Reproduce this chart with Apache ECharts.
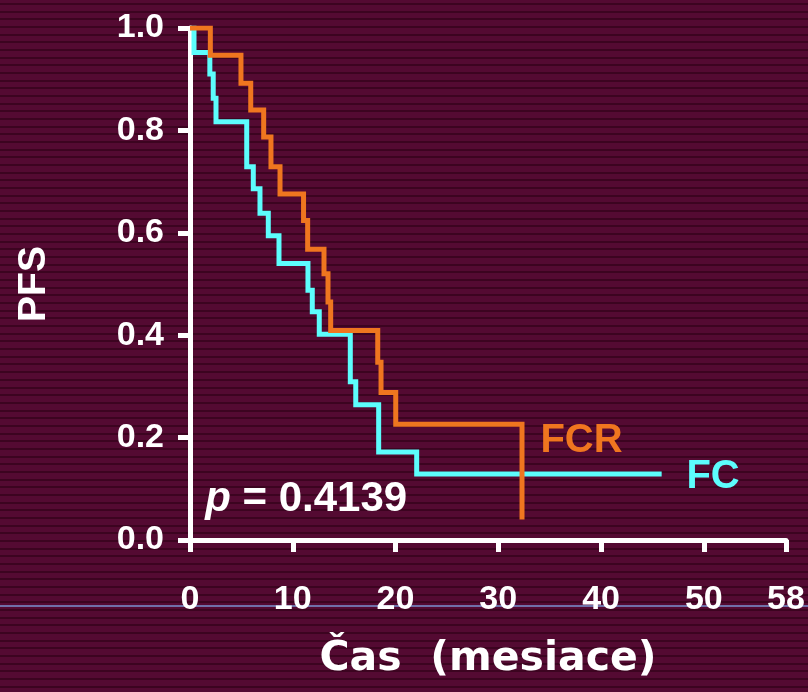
<!DOCTYPE html>
<html>
<head>
<meta charset="utf-8">
<script src="https://cdn.jsdelivr.net/npm/echarts@6/dist/echarts.min.js"></script>
<style>
  html, body { margin: 0; padding: 0; }
  body {
    width: 808px; height: 692px; overflow: hidden; position: relative;
    background: repeating-linear-gradient(to bottom, #540a32 0px, #540a32 3px, #3c0420 3px, #3c0420 5px, #540a32 5px, #540a32 7.67px);
  }
  #rule { position: absolute; left: 0; top: 605px; width: 808px; height: 2px; background: #7070a8; }
  #chart { position: absolute; left: 0; top: 0; width: 808px; height: 692px; }
</style>
</head>
<body>
<div id="rule"></div>
<div id="chart"></div>
<script>
// ---- data ----
const xTicks = [0, 10, 20, 30, 40, 50, 58];
const yTicks = [0, 0.2, 0.4, 0.6, 0.8, 1.0];

const fcTime = [0, 0.39, 1.93, 2.26, 2.53, 5.52, 6.16, 6.81, 7.62, 8.66, 11.48, 11.90, 12.58, 15.60, 16.13, 18.36, 22.06, 45.90];
const fcPFS  = [1.0, 0.952, 0.91, 0.863, 0.817, 0.729, 0.686, 0.638, 0.594, 0.54, 0.488, 0.446, 0.402, 0.309, 0.264, 0.172, 0.129, 0.129];

const fcrTime = [0, 1.98, 4.96, 5.91, 7.17, 7.88, 8.76, 11.05, 11.45, 13.04, 13.43, 13.69, 18.27, 18.59, 20.02, 32.31];
const fcrPFS  = [1.0, 0.947, 0.892, 0.84, 0.787, 0.729, 0.676, 0.624, 0.568, 0.52, 0.465, 0.409, 0.347, 0.288, 0.226, 0.04];

const seriesNames = ['FC', 'FCR'];
const pText = '0.4139';
// annotation anchors in data units
const fcrLabelAt = [38.1, 0.193];
const fcLabelAt = [50.9, 0.123];
const pLabelAt = [11.3, 0.080];

const zip = (a, b) => a.map((v, i) => [v, b[i]]);

const chart = echarts.init(document.getElementById('chart'), null, { renderer: 'canvas' });
const F = '"Liberation Sans", Arial, sans-serif';

chart.setOption({
  backgroundColor: 'transparent',
  animation: false,
  grid: { left: 190, top: 28, right: 22, bottom: 152, containLabel: false },
  xAxis: {
    type: 'value', min: 0, max: 58,
    name: 'Čas  (mesiace)', nameLocation: 'middle', nameGap: 99,
    nameTextStyle: { color: '#ffffff', fontFamily: '"DejaVu Sans", Verdana, sans-serif', fontWeight: 'bold', fontSize: 41 },
    axisLine: { show: true, onZero: false, lineStyle: { color: '#ffffff', width: 5 } },
    axisTick: { show: true, inside: false, length: 12, customValues: xTicks, lineStyle: { color: '#ffffff', width: 5 } },
    axisLabel: { show: true, customValues: xTicks, margin: 43, color: '#ffffff', fontFamily: F, fontWeight: 'bold', fontSize: 34 },
    splitLine: { show: false }
  },
  yAxis: {
    type: 'value', min: 0, max: 1, interval: 0.2,
    name: 'PFS', nameLocation: 'middle', nameGap: 136, nameRotate: 90,
    nameTextStyle: { color: '#ffffff', fontFamily: F, fontWeight: 'bold', fontSize: 39 },
    axisLine: { show: true, onZero: false, lineStyle: { color: '#ffffff', width: 5 } },
    axisTick: { show: true, inside: false, length: 12, lineStyle: { color: '#ffffff', width: 5 } },
    axisLabel: { show: true, margin: 26, color: '#ffffff', fontFamily: F, fontWeight: 'bold', fontSize: 34,
      formatter: v => v.toFixed(1) },
    splitLine: { show: false }
  },
  series: [
    {
      name: seriesNames[0], type: 'line', step: 'end', showSymbol: false, symbol: 'none', z: 2,
      data: zip(fcTime, fcPFS),
      lineStyle: { color: '#5cfdfd', width: 5, cap: 'butt', join: 'miter' },
      markPoint: {
        symbol: 'circle', symbolSize: 0, silent: true,
        data: [
          { coord: fcLabelAt, label: { show: true, position: 'inside', formatter: seriesNames[0], color: '#5cfdfd', fontFamily: F, fontWeight: 'bold', fontSize: 40 } },
          { coord: pLabelAt, label: { show: true, position: 'inside', formatter: '{i|p}{b| = ' + pText + '}',
              rich: {
                i: { color: '#ffffff', fontFamily: F, fontWeight: 'bold', fontStyle: 'italic', fontSize: 42 },
                b: { color: '#ffffff', fontFamily: F, fontWeight: 'bold', fontSize: 42 }
              } } }
        ]
      }
    },
    {
      name: seriesNames[1], type: 'line', step: 'end', showSymbol: false, symbol: 'none', z: 3,
      data: zip(fcrTime, fcrPFS),
      lineStyle: { color: '#ef761f', width: 5, cap: 'butt', join: 'miter' },
      markPoint: {
        symbol: 'circle', symbolSize: 0, silent: true,
        data: [
          { coord: fcrLabelAt, label: { show: true, position: 'inside', formatter: seriesNames[1], color: '#ef761f', fontFamily: F, fontWeight: 'bold', fontSize: 40 } }
        ]
      }
    }
  ]
});
</script>
</body>
</html>
